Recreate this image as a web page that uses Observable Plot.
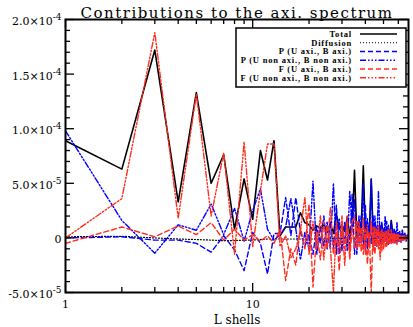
<!DOCTYPE html>
<html><head><meta charset="utf-8">
<script src="https://cdn.jsdelivr.net/npm/d3@7"></script>
<script src="https://cdn.jsdelivr.net/npm/@observablehq/plot@0.6"></script>
<style>body{margin:0;background:#fff}</style>
</head><body><div id="chart"></div>
<script>
const title = "Contributions to the axi. spectrum";
const xLabel = "L shells";
const shells = [1,2,3,4,5,6,7,8,9,10,11,12,13,14,15,16,17,18,19,20,21,22,23,24,25,26,27,28,29,30,31,32,33,34,35,36,37,38,39,40,41,42,43,44,45,46,47,48,49,50,51,52,53,54,55,56,57,58,59,60,61,62,63,64,65,66,67,68];

const total = [8.9e-5,6.3e-5,1.72e-4,3.3e-5,1.33e-4,5.0e-5,7.6e-5,8e-6,5.4e-5,1.7e-5,
 8.0e-5,5.3e-5,8.9e-5,2e-6,1.0e-5,1.0e-5,1.0e-5,2.3e-5,1.4e-5,1.2e-5,
 7e-6,1.1e-5,9e-6,1.2e-5,5e-6,1.3e-5,4e-6,2.2e-5,8e-6,1.2e-5,
 6e-6,1.8e-5,4e-6,1e-5,6.2e-5,2e-6,1.5e-5,8e-6,6.6e-5,3e-6,
 1.2e-5,5e-6,5.4e-5,4e-6,1e-5,3e-6,8e-6,2e-6,1.2e-5,3e-6,
 6e-6,2e-6,5e-6,3e-6,1.6e-5,4e-6,5e-6,1e-6,3e-6,2e-6,
 3e-6,1e-6,2e-6,1e-6,2e-6,1e-6,1e-6,1e-6];

const diffusion = [1e-6,1.5e-6,0,-1e-6,-1.5e-6,-2e-6,-2.5e-6,-2.5e-6,-2e-6,-2e-6,
 -1.5e-6,-1e-6,-1e-6,-1e-6,-1e-6,-1e-6,-1e-6,-1e-6,-1e-6,-1e-6,
 -1e-6,-1e-6,-1e-6,-1e-6,-1e-6,-5e-7,-5e-7,-5e-7,-5e-7,-5e-7,
 -5e-7,-5e-7,-5e-7,-5e-7,-5e-7,-5e-7,-5e-7,-5e-7,-5e-7,-5e-7,
 -5e-7,-5e-7,-5e-7,-5e-7,-5e-7,-5e-7,-5e-7,-5e-7,-5e-7,-5e-7,
 -5e-7,-5e-7,-5e-7,-5e-7,-5e-7,-5e-7,-5e-7,-5e-7,-5e-7,-5e-7,
 -5e-7,-5e-7,-5e-7,-5e-7,-5e-7,-5e-7,-5e-7,-5e-7];

const pAxi = [0,1e-6,-2e-6,-2e-6,-5e-6,-1.3e-5,2e-6,-1.1e-5,-3e-5,5e-6,
 -5e-6,-3.3e-5,4e-6,4e-6,3.7e-5,2e-6,3.7e-5,5e-6,-8e-6,3e-6,
 -1.5e-5,1e-5,-5e-6,2e-5,-1e-5,1.5e-5,-1e-5,3e-5,-1.5e-5,1e-5,
 -5e-6,2e-5,-1e-5,4e-5,-1.5e-5,1.5e-5,-5e-6,2e-5,-1e-5,3e-5,
 -1e-5,1.5e-5,-5e-6,2e-5,-8e-6,1e-5,-5e-6,1.2e-5,-6e-6,8e-6,
 -4e-6,1.5e-5,-6e-6,6e-6,-4e-6,8e-6,-5e-6,6e-6,-3e-6,5e-6,
 -3e-6,4e-6,-2e-6,3e-6,-2e-6,2e-6,-1e-6,1e-6];

const pNonAxi = [9.8e-5,1.6e-5,-1.4e-5,1.2e-5,7e-6,3.1e-5,3e-6,2.7e-5,-3e-6,2.5e-5,
 4.5e-5,8e-6,-2e-6,3e-6,1e-5,3.6e-5,8e-6,-2e-5,5e-6,-1e-5,
 5.2e-5,-1.5e-5,1e-5,-8e-6,1.5e-5,-1e-5,5e-5,-1.5e-5,1.8e-5,-1.2e-5,
 1.5e-5,-1.2e-5,4.3e-5,1e-5,3.5e-5,-1.5e-5,2e-5,-5e-6,5e-5,-1.2e-5,
 1.8e-5,-8e-6,5.4e-5,-6e-6,2e-5,-8e-6,4.3e-5,-5e-6,1.5e-5,-4e-6,
 2e-5,-5e-6,1.2e-5,-4e-6,1.5e-5,-3e-6,8e-6,-5e-6,1.4e-5,-3e-6,
 6e-6,-4e-6,8e-6,-2e-6,5e-6,-3e-6,3e-6,-2e-6];

const fAxi = [-5e-6,1e-5,1e-6,1.1e-5,3e-6,1.4e-5,-2e-6,8e-6,-2e-6,3e-6,
 -3e-6,2e-6,-5e-6,8e-6,-3.9e-5,-1e-5,-2.5e-5,1e-5,-1e-5,3.1e-5,
 -4.5e-5,5e-6,-2e-5,1.5e-5,-1e-5,2.8e-5,-1.5e-5,1e-5,-3e-5,1.5e-5,
 -1e-5,2e-5,-2e-5,1e-5,-1e-5,1.5e-5,-8e-6,1e-5,-1.5e-5,8e-6,
 -2.4e-5,5e-6,-5e-5,1e-5,-1.5e-5,8e-6,-1e-5,6e-6,-1.2e-5,5e-6,
 -8e-6,6e-6,-6e-6,4e-6,-5e-6,5e-6,-4e-6,3e-6,-6e-6,3e-6,
 -3e-6,2e-6,-3e-6,2e-6,-2e-6,1e-6,-1e-6,1e-6];

const fNonAxi = [0,3.6e-5,1.88e-4,1.8e-5,1.32e-4,2e-5,7.8e-5,-1.5e-5,8.8e-5,-8e-6,
 4.3e-5,8.6e-5,8.6e-5,-8e-6,2e-6,-1.8e-5,-1e-5,7e-6,3.7e-5,-1.5e-5,
 1.5e-5,-1e-5,2e-5,-2e-5,1.2e-5,-8e-6,-5e-5,1.5e-5,-1e-5,2e-5,
 -2.5e-5,1e-5,-1.5e-5,1.5e-5,2e-5,-1e-5,1.5e-5,-1.2e-5,1.8e-5,-1.5e-5,
 1.2e-5,-1e-5,1.5e-5,-1.2e-5,1e-5,-8e-6,1.2e-5,-2e-5,8e-6,-1e-5,
 6e-6,-8e-6,8e-6,-6e-6,8e-6,-5e-6,5e-6,-4e-6,4e-6,-3e-6,
 3e-6,-3e-6,2e-6,-2e-6,2e-6,-1e-6,1e-6,-1e-6];

const seriesNames = ["Total","Diffusion","P (U axi., B axi.)","P (U non axi., B non axi.)","F (U axi., B axi.)","F (U non axi., B non axi.)"];
const seriesValues = [total, diffusion, pAxi, pNonAxi, fAxi, fNonAxi];

const yTicks = [-5e-5, 0, 5e-5, 1e-4, 1.5e-4, 2e-4];
const yTickLabels = ["-5.0×10^-5","0","5.0×10^-5","1.0×10^-4","1.5×10^-4","2.0×10^-4"];
const yMinor = [-4e-5,-3e-5,-2e-5,-1e-5,1e-5,2e-5,3e-5,4e-5,6e-5,7e-5,8e-5,9e-5,1.1e-4,1.2e-4,1.3e-4,1.4e-4,1.6e-4,1.7e-4,1.8e-4,1.9e-4];
const xMajor = [1, 10];
const xMinor = [2,3,4,5,6,7,8,9,20,30,40,50,60];

const styles = [
  {stroke:"#000000", dash:null, w:1.6},
  {stroke:"#000000", dash:"1,2", w:1.2},
  {stroke:"#0000ff", dash:"5,3", w:1.4},
  {stroke:"#0000ff", dash:"6,2,1.5,2,1.5,2,1.5,2", w:1.4},
  {stroke:"#ff2d1e", dash:"5,3", w:1.4},
  {stroke:"#ff2d1e", dash:"6,2,1.5,2,1.5,2,1.5,2", w:1.4}
];

const W = 413, H = 327, mL = 65, mR = 5, mT = 19, mB = 35;
const fw = W - mL - mR, fh = H - mT - mB;

const lineMarks = seriesValues.map((vals, k) => Plot.line(shells, {
  x: d => d, y: (d, i) => vals[i],
  stroke: styles[k].stroke, strokeWidth: styles[k].w,
  strokeDasharray: styles[k].dash, clip: true
}));

const chart = Plot.plot({
  width: W, height: H,
  marginLeft: mL, marginRight: mR, marginTop: mT, marginBottom: mB,
  x: {type: "log", domain: [1, 68], axis: null},
  y: {domain: [-5e-5, 2e-4], axis: null},
  style: {fontFamily: "DejaVu Serif", background: "white", color: "black"},
  marks: [
    ...lineMarks,
    Plot.tickY(yTicks, {y: d => d, insetRight: fw - 9, stroke: "black", strokeWidth: 1.3}),
    Plot.tickY(yTicks, {y: d => d, insetLeft: fw - 9, stroke: "black", strokeWidth: 1.3}),
    Plot.tickY(yMinor, {y: d => d, insetRight: fw - 5, stroke: "black", strokeWidth: 1.3}),
    Plot.tickY(yMinor, {y: d => d, insetLeft: fw - 5, stroke: "black", strokeWidth: 1.3}),
    Plot.tickX(xMajor, {x: d => d, insetTop: fh - 9, stroke: "black", strokeWidth: 1.3}),
    Plot.tickX(xMajor, {x: d => d, insetBottom: fh - 9, stroke: "black", strokeWidth: 1.3}),
    Plot.tickX(xMinor, {x: d => d, insetTop: fh - 5, stroke: "black", strokeWidth: 1.3}),
    Plot.tickX(xMinor, {x: d => d, insetBottom: fh - 5, stroke: "black", strokeWidth: 1.3}),
    Plot.frame({stroke: "black", strokeWidth: 2}),
    Plot.text(yTicks, {y: d => d, frameAnchor: "left", dx: -4, dy: 2, textAnchor: "end", text: (d, i) => yTickLabels[i], fontSize: 11, fill: "black"}),
    Plot.text(xMajor, {x: d => d, frameAnchor: "bottom", dy: 15, text: d => String(d), fontSize: 11, fill: "black"}),
    Plot.text([xLabel], {frameAnchor: "bottom", dy: 31, text: d => d, fontSize: 12, fill: "black"}),
    Plot.text([title], {frameAnchor: "top", dy: -12, text: d => d, fontSize: 15, fill: "black"})
  ]
});

document.getElementById("chart").appendChild(chart);
const svg = d3.select(chart);

// superscripts for tick labels, letter spacing for the title
svg.selectAll("text").each(function() {
  const t = d3.select(this);
  const s = this.textContent;
  if (s.includes("^")) {
    const [base, exp] = s.split("^");
    t.text(base);
    t.append("tspan").attr("dy", "-5").attr("font-size", 9).text(exp);
  } else if (s === title) {
    t.attr("letter-spacing", "1.5px");
  }
});

// legend
const lg = svg.append("g");
lg.append("rect").attr("x", 236).attr("y", 28).attr("width", 170).attr("height", 59)
  .attr("fill", "white").attr("stroke", "black").attr("stroke-width", 1.5);
seriesNames.forEach((name, i) => {
  const y = 34 + i * 8.75;
  lg.append("text").attr("x", 352).attr("y", y).attr("dy", "0.35em")
    .attr("text-anchor", "end").attr("font-family", "Liberation Serif")
    .attr("font-weight", "bold").attr("font-size", 8.5).attr("letter-spacing", "0.8px")
    .attr("fill", "black").text(name);
  lg.append("line").attr("x1", 360).attr("x2", 397).attr("y1", y).attr("y2", y)
    .attr("stroke", styles[i].stroke).attr("stroke-width", styles[i].w)
    .attr("stroke-dasharray", styles[i].dash);
});
</script>
</body></html>
